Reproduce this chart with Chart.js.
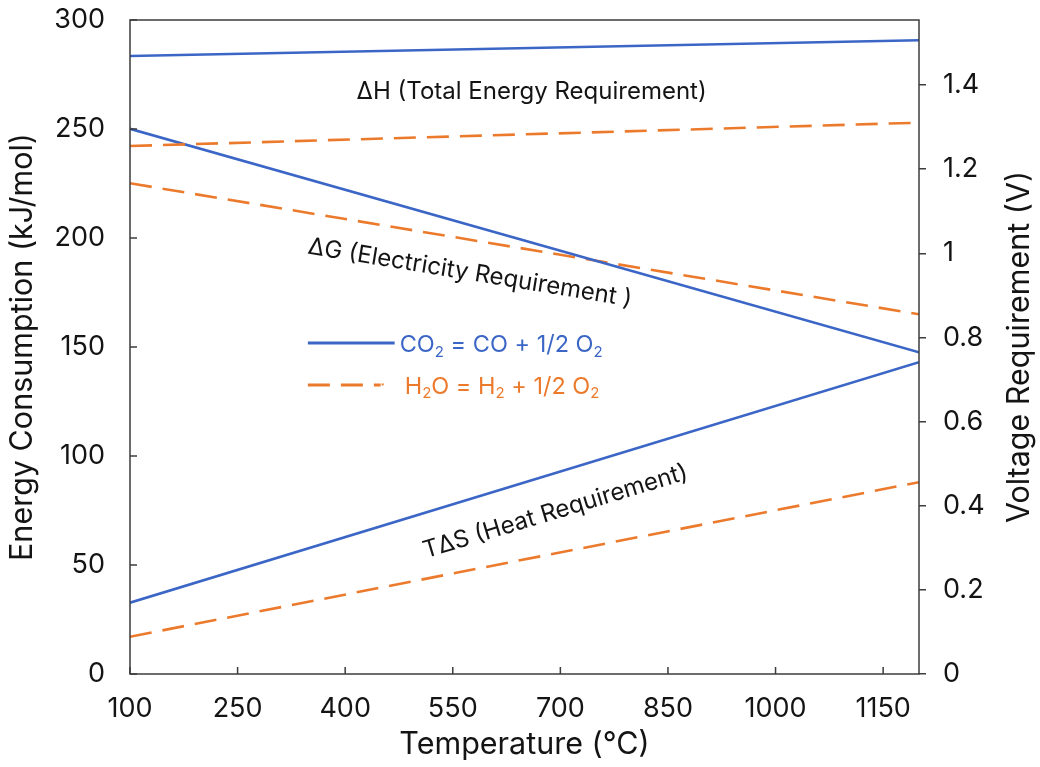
<!DOCTYPE html>
<html>
<head>
<meta charset="utf-8">
<script src="https://cdn.jsdelivr.net/npm/chart.js@4.4.1/dist/chart.umd.min.js"></script>
<style>
  html, body { margin: 0; padding: 0; background: #fff; }
</style>
</head>
<body>
<canvas id="myChart" width="1040" height="767"></canvas>
<script>
// Data (kJ/mol at each temperature)
var tempC = [100, 1200];
var co2DeltaH = [283.5, 290.7];
var h2oDeltaH = [242.2, 252.9];
var co2DeltaG = [250.1, 147.6];
var h2oDeltaG = [225.1, 165.0];
var co2TdeltaS = [32.7, 143.0];
var h2oTdeltaS = [17.1, 88.0];

// Tick labels
var tempTicks = [100, 250, 400, 550, 700, 850, 1000, 1150];
var energyTicks = [0, 50, 100, 150, 200, 250, 300];
var voltTicks = [0, 0.2, 0.4, 0.6, 0.8, 1, 1.2, 1.4];

// the voltage axis is the energy axis divided by 2F
var faraday = 96.485;
var voltMax = 300 / (2 * faraday);

var blue = "#3b66c6";
var orange = "#ec7a2c";
var dash = [22, 11];
var font = "Inter, 'DejaVu Sans', sans-serif";
var textColor = "#141414";

function pts(ys) {
    return tempC.map(function (t, i) { return { x: t, y: ys[i] }; });
}

function line(ys, isH2O) {
    return {
        label: isH2O ? "H2O = H2 + 1/2 O2" : "CO2 = CO + 1/2 O2",
        data: pts(ys),
        borderColor: isH2O ? orange : blue,
        borderWidth: 2.6,
        borderDash: isH2O ? dash : [],
        pointRadius: 0,
        fill: false,
        tension: 0,
        yAxisID: "y"
    };
}

// draws text where some pieces are subscripts
function richText(ctx, x, y, parts, size, color) {
    ctx.fillStyle = color;
    ctx.textBaseline = "middle";
    ctx.textAlign = "left";
    parts.forEach(function (p) {
        var sub = p[1];
        ctx.font = (sub ? Math.round(size * 0.65) : size) + "px " + font;
        ctx.fillText(p[0], x, sub ? y + size * 0.3 : y);
        x += ctx.measureText(p[0]).width;
    });
}

// drop the half-label paddings so the plot box sits where the figure has it
function noPad(s) {
    s.paddingTop = 0; s.paddingBottom = 0;
    s.paddingLeft = 0; s.paddingRight = 0;
}

var extras = {
    id: "extras",
    afterDraw: function (chart) {
        var ctx = chart.ctx;
        var a = chart.chartArea;
        var sx = chart.scales.x, sy = chart.scales.y;
        ctx.save();
        // frame
        ctx.strokeStyle = "#3c3c3c";
        ctx.lineWidth = 1.5;
        ctx.strokeRect(a.left, a.top, a.right - a.left, a.bottom - a.top);
        // inward ticks on left and bottom
        ctx.beginPath();
        energyTicks.forEach(function (v) {
            var py = sy.getPixelForValue(v);
            ctx.moveTo(a.left, py); ctx.lineTo(a.left + 7, py);
        });
        tempTicks.forEach(function (v) {
            var px = sx.getPixelForValue(v);
            ctx.moveTo(px, a.bottom); ctx.lineTo(px, a.bottom - 7);
        });
        ctx.stroke();

        // right axis title, reading bottom to top
        ctx.save();
        ctx.fillStyle = textColor;
        ctx.font = "30.5px " + font;
        ctx.textAlign = "center";
        ctx.textBaseline = "middle";
        ctx.translate(1020, (a.top + a.bottom) / 2);
        ctx.rotate(-Math.PI / 2);
        ctx.fillText("Voltage Requirement (V)", 0, 0);
        ctx.restore();

        // annotations
        ctx.fillStyle = textColor;
        ctx.font = "24px " + font;
        ctx.textAlign = "center";
        ctx.textBaseline = "middle";
        var notes = [
            ["\u0394H (Total Energy Requirement)", 660, 267, 0],
            ["\u0394G (Electricity Requirement )", 574, 184, 9.3],
            ["T\u0394S (Heat Requirement)", 693, 74.5, -16.8]
        ];
        notes.forEach(function (n) {
            ctx.save();
            ctx.translate(sx.getPixelForValue(n[1]), sy.getPixelForValue(n[2]));
            ctx.rotate(n[3] * Math.PI / 180);
            ctx.fillText(n[0], 0, 0);
            ctx.restore();
        });

        // legend
        var lx0 = sx.getPixelForValue(348), lx1 = sx.getPixelForValue(469);
        var ly1 = sy.getPixelForValue(151.8), ly2 = sy.getPixelForValue(132.6);
        ctx.lineWidth = 3;
        ctx.strokeStyle = blue;
        ctx.setLineDash([]);
        ctx.beginPath(); ctx.moveTo(lx0, ly1); ctx.lineTo(lx1, ly1); ctx.stroke();
        ctx.strokeStyle = orange;
        ctx.setLineDash(dash);
        ctx.beginPath(); ctx.moveTo(lx0, ly2); ctx.lineTo(lx1 - 14, ly2); ctx.stroke();
        ctx.setLineDash([]);
        ctx.fillStyle = orange;
        ctx.fillRect(lx1 - 13, ly2 - 1.5, 2, 2);
        richText(ctx, lx1 + 5, ly1 + 2, [["CO", 0], ["2", 1], [" = CO + 1/2 O", 0], ["2", 1]], 23.5, blue);
        richText(ctx, lx1 + 10, ly2 + 2, [["H", 0], ["2", 1], ["O = H", 0], ["2", 1], [" + 1/2 O", 0], ["2", 1]], 23.5, orange);
        ctx.restore();
    }
};

var ctx = document.getElementById("myChart");
var myChart = new Chart(ctx, {
    type: "line",
    data: {
        datasets: [
            line(co2DeltaH, false),
            line(h2oDeltaH, true),
            line(co2DeltaG, false),
            line(h2oDeltaG, true),
            line(co2TdeltaS, false),
            line(h2oTdeltaS, true)
        ]
    },
    options: {
        responsive: false,
        animation: false,
        devicePixelRatio: 1,
        layout: { padding: { top: 20, left: 0, right: 0, bottom: 0 } },
        plugins: {
            legend: { display: false },
            tooltip: { enabled: false }
        },
        scales: {
            x: {
                type: "linear",
                min: 100,
                max: 1200,
                afterBuildTicks: function (s) { s.ticks = tempTicks.map(function (v) { return { value: v }; }); },
                afterFit: function (s) { s.height = 93; noPad(s); },
                grid: { display: false, drawTicks: false },
                border: { display: false },
                ticks: {
                    color: textColor,
                    font: { family: font, size: 27 },
                    padding: 19,
                    maxRotation: 0,
                    callback: function (v) { return String(v); }
                },
                title: { display: true, text: "Temperature (\u00B0C)", color: textColor, font: { family: font, size: 30.5 }, padding: { top: 0 } }
            },
            y: {
                position: "left",
                min: 0,
                max: 300,
                afterBuildTicks: function (s) { s.ticks = energyTicks.map(function (v) { return { value: v }; }); },
                afterFit: function (s) { s.width = 130; noPad(s); },
                grid: { display: false, drawTicks: false },
                border: { display: false },
                ticks: { color: textColor, font: { family: font, size: 27 }, padding: 25 },
                title: { display: true, text: "Energy Consumption (kJ/mol)", color: textColor, font: { family: font, size: 30.5 }, padding: { top: 5, bottom: 0 } }
            },
            y2: {
                position: "right",
                min: 0,
                max: voltMax,
                afterBuildTicks: function (s) { s.ticks = voltTicks.map(function (v) { return { value: v }; }); },
                afterFit: function (s) { s.width = 121; noPad(s); },
                grid: { drawOnChartArea: false, tickLength: 7, color: "#3c3c3c", lineWidth: 1.5 },
                border: { display: false },
                ticks: {
                    color: textColor,
                    font: { family: font, size: 27 },
                    padding: 17,
                    callback: function (v) { return String(Math.round(v * 10) / 10); }
                },
                title: { display: false }
            }
        }
    },
    plugins: [extras]
});
</script>
</body>
</html>
